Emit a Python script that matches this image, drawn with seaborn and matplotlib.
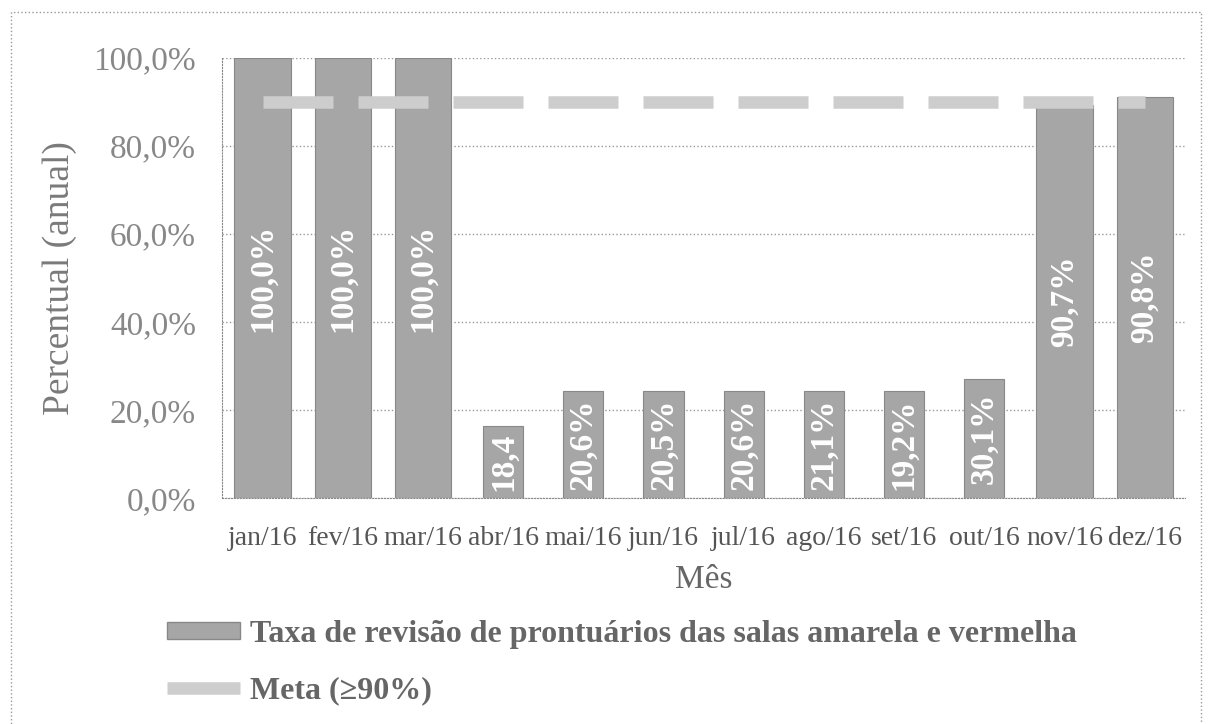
import numpy as np
import pandas as pd
import seaborn as sns
import matplotlib.pyplot as plt
from matplotlib.patches import Patch, Rectangle
from matplotlib.lines import Line2D

# values (bar heights as drawn, labels as printed)
months = ['jan/16', 'fev/16', 'mar/16', 'abr/16', 'mai/16', 'jun/16',
          'jul/16', 'ago/16', 'set/16', 'out/16', 'nov/16', 'dez/16']
bar_heights = [100, 100, 100, 16.4, 24.4, 24.4, 24.4, 24.4, 24.4, 27.0, 89.3, 91.2]
bar_labels = ['100,0%', '100,0%', '100,0%', '18,4', '20,6%', '20,5%',
              '20,6%', '21,1%', '19,2%', '30,1%', '90,7%', '90,8%']
bar_group = ['wide', 'wide', 'wide', 'narrow', 'narrow', 'narrow',
             'narrow', 'narrow', 'narrow', 'narrow', 'wide', 'wide']
meta = [90] * 12

df = pd.DataFrame({'month': months, 'value': bar_heights, 'group': bar_group})

bar_color = '#a6a6a6'
meta_color = '#cdcdcd'
text_gray = '#7a7a7a'

sns.set_style('white')
plt.rcParams['font.family'] = ['Liberation Serif', 'DejaVu Serif']

fig = plt.figure(figsize=(12.09, 7.24), dpi=100)
ax = fig.add_axes([0.184, 0.312, 0.796, 0.608])

#bars: two widths like in the original
sns.barplot(data=df[df['group'] == 'wide'], x='month', y='value', order=months,
            width=0.7, color=bar_color, saturation=1, edgecolor='#888888',
            linewidth=0.8, ax=ax, zorder=2)
sns.barplot(data=df[df['group'] == 'narrow'], x='month', y='value', order=months,
            width=0.5, color=bar_color, saturation=1, edgecolor='#888888',
            linewidth=0.8, ax=ax, zorder=2)

#goal line
sns.lineplot(x=np.arange(len(months)), y=meta, color=meta_color, linewidth=9,
             ax=ax, zorder=3)
ax.lines[-1].set_dashes((5.6, 2.0))
ax.lines[-1].set_solid_capstyle('butt')
ax.lines[-1].set_dash_capstyle('butt')

#labels inside bars
for i, (h, lab) in enumerate(zip(bar_heights, bar_labels)):
    ax.text(i, h / 2, lab, rotation=90, ha='center', va='center', color='white',
            fontsize=24, fontweight='bold', zorder=4)

ax.set_ylim(0, 100)
ax.set_xlim(-0.5, len(months) - 0.5)
ax.set_yticks(range(0, 101, 20))
ax.set_yticklabels([f'{v},0%' for v in range(0, 101, 20)])
ax.yaxis.grid(True, linestyle=':', color='#999999', linewidth=1)
ax.set_axisbelow(True)

ax.set_xticks(np.arange(len(months)))
ax.set_xticklabels(months)
ax.set_xticks(np.arange(-0.5, len(months), 1), minor=True)
ax.tick_params(axis='x', which='major', length=0, labelsize=20, pad=20, colors='#555555')
ax.tick_params(axis='x', which='minor', length=6, color='#999999', direction='out')
ax.tick_params(axis='y', length=5, color='#999999', labelsize=24, pad=14, labelcolor='#888888')

for s in ['top', 'right']:
    ax.spines[s].set_visible(False)
for s in ['left', 'bottom']:
    ax.spines[s].set_linestyle(':')
    ax.spines[s].set_color('#888888')

ax.set_xlabel('Mês', fontsize=24, color='#666666', labelpad=10)
ax.set_ylabel('Percentual (anual)', fontsize=27, color=text_gray, labelpad=12)

handles = [Patch(facecolor=bar_color, edgecolor='#888888'),
           Line2D([0], [0], color=meta_color, linewidth=9, solid_capstyle='butt')]
fig.legend(handles, ['Taxa de revisão de prontuários das salas amarela e vermelha',
                     'Meta (≥90%)'],
           loc='center left', bbox_to_anchor=(0.138, 0.085), frameon=False,
           borderpad=0, borderaxespad=0, handlelength=2.3, handleheight=0.4,
           handletextpad=0.3, labelspacing=0.85,
           prop={'size': 23, 'weight': 'bold'}, labelcolor='#666666')

#dotted frame around the chart
fig.add_artist(Rectangle((0.009, -0.02), 0.984, 1.004, transform=fig.transFigure,
                         fill=False, linestyle=':', edgecolor='#999999', linewidth=1))

plt.savefig('out.png', dpi=100)
